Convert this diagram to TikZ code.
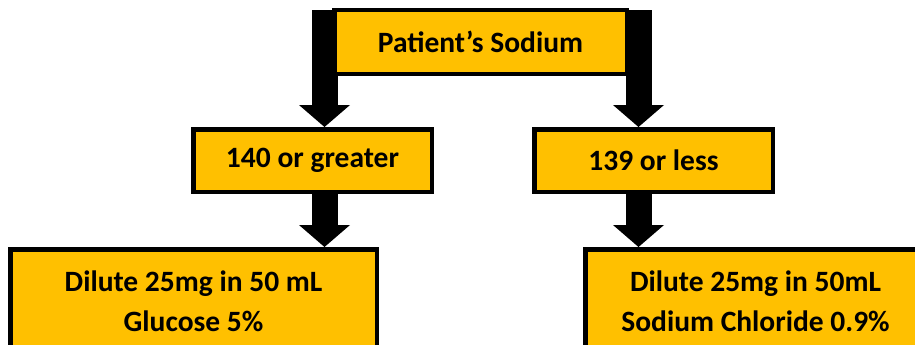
\documentclass[tikz,border=0pt]{standalone}
\usepackage{fontspec}
\setmainfont{Carlito}
\usetikzlibrary{arrows.meta}
\pgfdeclarelayer{background}
\pgfsetlayers{background,main}
\definecolor{gold}{HTML}{FFC000}
\tikzset{
  box/.style={draw=black, line width=4.5pt, fill=gold, inner sep=0pt, align=center,
    font=\bfseries\fontsize{29.5}{40}\selectfont},
  arr/.style={draw=black, line width=26pt, line join=miter,
    -{Triangle[width=51pt,length=22pt,line width=0pt]}}
}
\begin{document}
\begin{tikzpicture}[x=1pt,y=-1pt]
\useasboundingbox (0,0) rectangle (915,345);
\clip (0,0) rectangle (915,345);
\node[box, minimum width=292.5pt, minimum height=63.5pt] (top) at (480.5,42) {Patient’s Sodium};
\node[box, minimum width=238.5pt, minimum height=62.5pt] (midL) at (312.5,160.5) {140 or greater};
\node[box, minimum width=238.5pt, minimum height=62.5pt] (midR) at (653.5,160.5) {139 or less};
\node[box, minimum width=366.5pt, minimum height=103.5pt] (botL) at (193.5,301) {Dilute 25mg in 50 mL\\Glucose 5\%};
\node[box, minimum width=340.5pt, minimum height=103.5pt] (botR) at (755.5,301) {Dilute 25mg in 50mL\\Sodium Chloride 0.9\%};
\begin{pgfonlayer}{background}
\draw[arr] ([yshift=18.5pt]top.center) -| ([xshift=12pt]midL.north);
\draw[arr] ([yshift=18.5pt]top.center) -| ([xshift=-15pt]midR.north);
\draw[arr] ([xshift=12pt]midL.south) -- ([xshift=12pt]midL.south |- botL.north);
\draw[arr] ([xshift=-15pt]midR.south) -- ([xshift=-15pt]midR.south |- botR.north);
\end{pgfonlayer}
\end{tikzpicture}
\end{document}
